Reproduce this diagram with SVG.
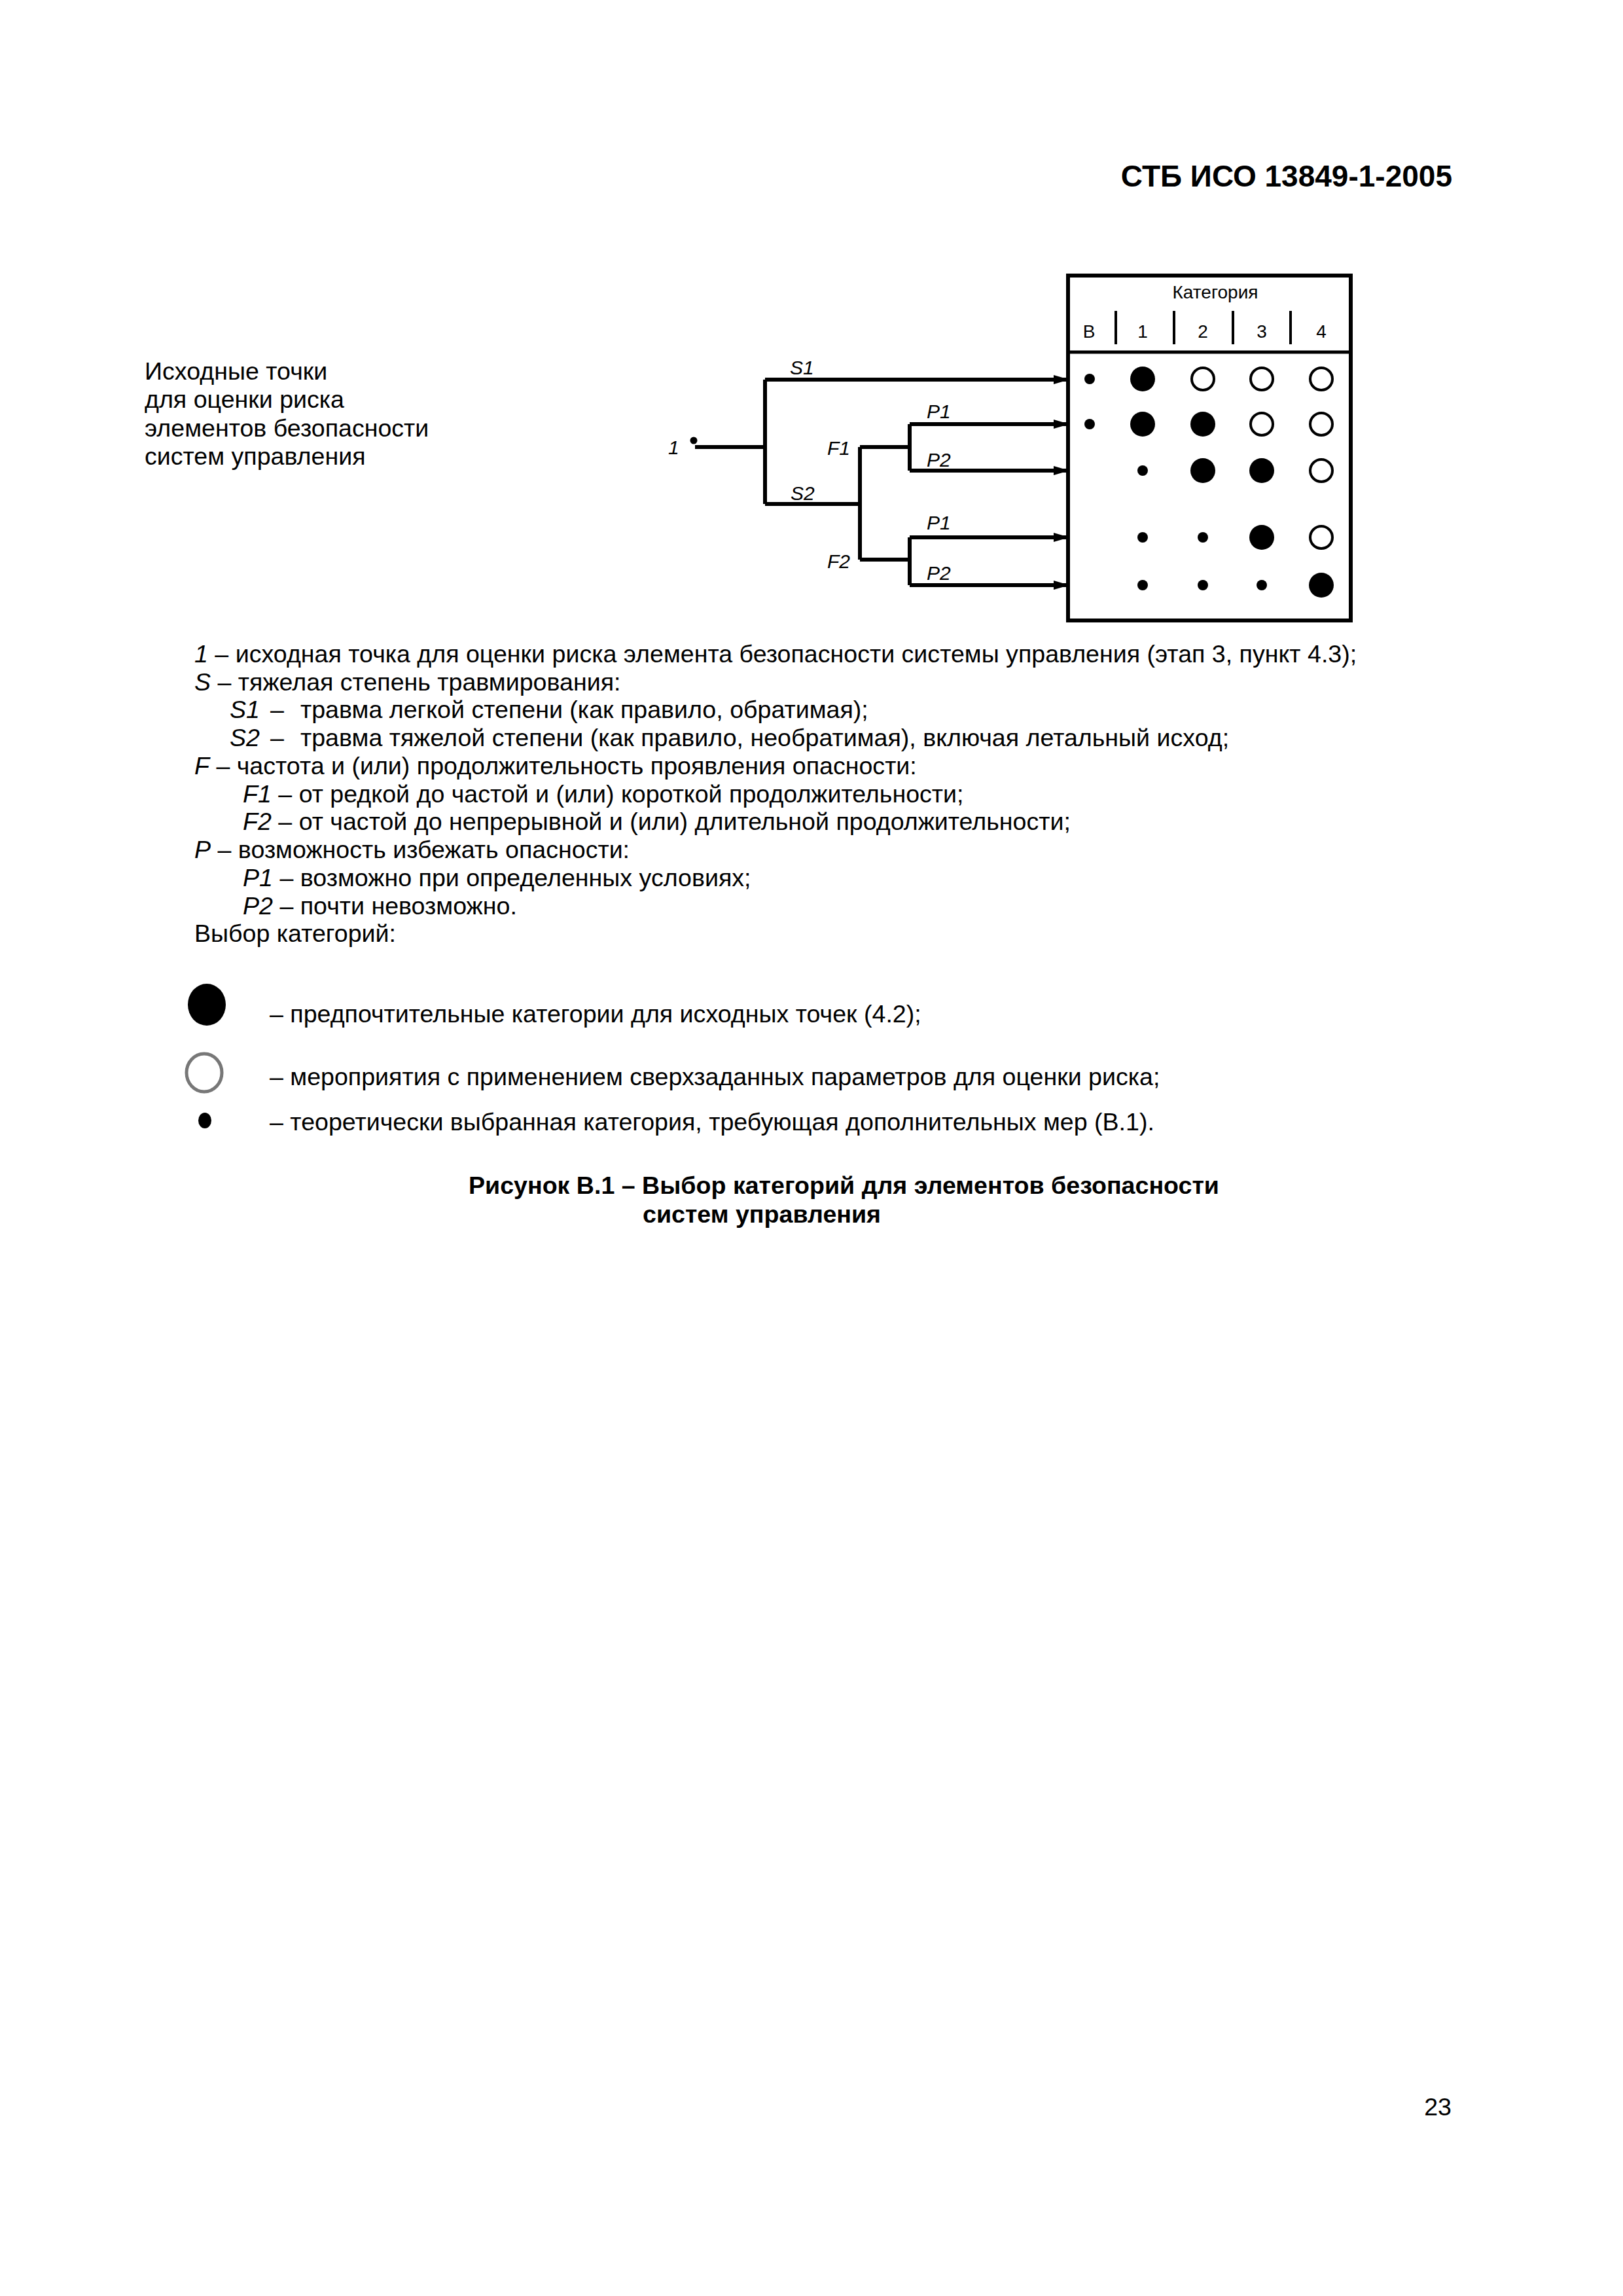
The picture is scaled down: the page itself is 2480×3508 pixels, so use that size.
<svg xmlns="http://www.w3.org/2000/svg" width="2480" height="3508" viewBox="0 0 2480 3508">
<defs>
<style>
text{font-family:"Liberation Sans",Arial,sans-serif;fill:#000}
.hdr{font-size:46px;font-weight:bold}
.body{font-size:37.6px}
.cap{font-size:37.6px;font-weight:bold}
.lbl{font-size:30px;font-style:italic}
.col{font-size:28px;text-anchor:middle}
.it{font-style:italic}
.ln{stroke:#000;stroke-width:6;fill:none}
.big{fill:#000}
.open{fill:#fff;stroke:#000;stroke-width:4}
.dot{fill:#000}
</style>
<marker id="arr" markerWidth="24" markerHeight="14" refX="22" refY="7" orient="auto" markerUnits="userSpaceOnUse">
<path d="M0,0 L24,7 L0,14 Z" fill="#000"/>
</marker>
</defs>
<rect width="2480" height="3508" fill="#fff"/>
<text class="hdr" x="2219" y="285" text-anchor="end">СТБ ИСО 13849-1-2005</text>
<g id="intro">
<text class="body" x="221" y="580">Исходные точки</text>
<text class="body" x="221" y="623">для оценки риска</text>
<text class="body" x="221" y="667">элементов безопасности</text>
<text class="body" x="221" y="710">систем управления</text>
</g>
<g id="table">
<rect x="1632" y="421" width="432" height="527" fill="none" stroke="#000" stroke-width="6"/>
<line x1="1632" y1="538" x2="2064" y2="538" stroke="#000" stroke-width="5"/>
<text class="col" x="1857" y="456">Категория</text>
<text class="col" x="1664" y="516">В</text>
<text class="col" x="1746" y="516">1</text>
<text class="col" x="1838" y="516">2</text>
<text class="col" x="1928" y="516">3</text>
<text class="col" x="2019" y="516">4</text>
<g stroke="#000" stroke-width="4">
<line x1="1705" y1="475" x2="1705" y2="526"/>
<line x1="1794" y1="475" x2="1794" y2="526"/>
<line x1="1884" y1="475" x2="1884" y2="526"/>
<line x1="1972" y1="475" x2="1972" y2="526"/>
</g>
</g>
<g id="row-S1">
<circle class="dot" cx="1665" cy="579" r="8"/>
<ellipse class="big" cx="1746" cy="579" rx="19" ry="19"/>
<ellipse class="open" cx="1838" cy="579" rx="17" ry="17"/>
<ellipse class="open" cx="1928" cy="579" rx="17" ry="17"/>
<ellipse class="open" cx="2019" cy="579" rx="17" ry="17"/>
</g>
<g id="row-S2F1P1">
<circle class="dot" cx="1665" cy="648" r="8"/>
<ellipse class="big" cx="1746" cy="648" rx="19" ry="19"/>
<ellipse class="big" cx="1838" cy="648" rx="19" ry="19"/>
<ellipse class="open" cx="1928" cy="648" rx="17" ry="17"/>
<ellipse class="open" cx="2019" cy="648" rx="17" ry="17"/>
</g>
<g id="row-S2F1P2">
<circle class="dot" cx="1746" cy="719" r="8"/>
<ellipse class="big" cx="1838" cy="719" rx="19" ry="19"/>
<ellipse class="big" cx="1928" cy="719" rx="19" ry="19"/>
<ellipse class="open" cx="2019" cy="719" rx="17" ry="17"/>
</g>
<g id="row-S2F2P1">
<circle class="dot" cx="1746" cy="821" r="8"/>
<circle class="dot" cx="1838" cy="821" r="8"/>
<ellipse class="big" cx="1928" cy="821" rx="19" ry="19"/>
<ellipse class="open" cx="2019" cy="821" rx="17" ry="17"/>
</g>
<g id="row-S2F2P2">
<circle class="dot" cx="1746" cy="894" r="8"/>
<circle class="dot" cx="1838" cy="894" r="8"/>
<circle class="dot" cx="1928" cy="894" r="8"/>
<ellipse class="big" cx="2019" cy="894" rx="19" ry="19"/>
</g>
<g id="start">
<text class="lbl" x="1021" y="694">1</text>
<circle cx="1060" cy="673" r="5.5" fill="#000"/>
</g>
<g id="tree-labels">
<text class="lbl" x="1207" y="572">S1</text>
<text class="lbl" x="1208" y="764">S2</text>
<text class="lbl" x="1264" y="695">F1</text>
<text class="lbl" x="1264" y="868">F2</text>
<text class="lbl" x="1416" y="639">P1</text>
<text class="lbl" x="1416" y="713">P2</text>
<text class="lbl" x="1416" y="809">P1</text>
<text class="lbl" x="1416" y="886">P2</text>
</g>
<g id="connectors">
<path class="ln" d="M1062,683 H1169"/>
<path class="ln" d="M1169,580 V770"/>
<path class="ln" d="M1169,580 H1632" marker-end="url(#arr)"/>
<path class="ln" d="M1169,770 H1314"/>
<path class="ln" d="M1314,683 V855"/>
<path class="ln" d="M1314,683 H1390"/>
<path class="ln" d="M1314,855 H1390"/>
<path class="ln" d="M1390,648 V719"/>
<path class="ln" d="M1390,821 V894"/>
<path class="ln" d="M1390,648 H1632" marker-end="url(#arr)"/>
<path class="ln" d="M1390,719 H1632" marker-end="url(#arr)"/>
<path class="ln" d="M1390,821 H1632" marker-end="url(#arr)"/>
<path class="ln" d="M1390,894 H1632" marker-end="url(#arr)"/>
</g>
<g id="key">
<text class="body" x="297" y="1012"><tspan class="it">1</tspan> – исходная точка для оценки риска элемента безопасности системы управления (этап 3, пункт 4.3);</text>
<text class="body" x="297" y="1055"><tspan class="it">S</tspan> – тяжелая степень травмирования:</text>
<text class="body" y="1097"><tspan class="it" x="351">S1</tspan><tspan x="413">–</tspan><tspan x="459">травма легкой степени (как правило, обратимая);</tspan></text>
<text class="body" y="1140"><tspan class="it" x="351">S2</tspan><tspan x="413">–</tspan><tspan x="459">травма тяжелой степени (как правило, необратимая), включая летальный исход;</tspan></text>
<text class="body" x="297" y="1183"><tspan class="it">F</tspan> – частота и (или) продолжительность проявления опасности:</text>
<text class="body" x="371" y="1226"><tspan class="it">F1</tspan> – от редкой до частой и (или) короткой продолжительности;</text>
<text class="body" x="371" y="1268"><tspan class="it">F2</tspan> – от частой до непрерывной и (или) длительной продолжительности;</text>
<text class="body" x="297" y="1311"><tspan class="it">P</tspan> – возможность избежать опасности:</text>
<text class="body" x="371" y="1354"><tspan class="it">P1</tspan> – возможно при определенных условиях;</text>
<text class="body" x="371" y="1397"><tspan class="it">P2</tspan> – почти невозможно.</text>
<text class="body" x="297" y="1439">Выбор категорий:</text>
</g>
<g id="legend">
<ellipse cx="316" cy="1535" rx="29" ry="32" fill="#000"/>
<ellipse cx="312" cy="1639" rx="27" ry="29" fill="#fff" stroke="#777" stroke-width="5"/>
<ellipse cx="313" cy="1712" rx="10" ry="12" fill="#000"/>
<text class="body" x="412" y="1562">– предпочтительные категории для исходных точек (4.2);</text>
<text class="body" x="412" y="1658">– мероприятия с применением сверхзаданных параметров для оценки риска;</text>
<text class="body" x="412" y="1727">– теоретически выбранная категория, требующая дополнительных мер (В.1).</text>
</g>
<g id="caption">
<text class="cap" x="716" y="1824">Рисунок В.1 – Выбор категорий для элементов безопасности</text>
<text class="cap" x="982" y="1868">систем управления</text>
</g>
<text class="body" x="2218" y="3232" text-anchor="end">23</text>
</svg>
